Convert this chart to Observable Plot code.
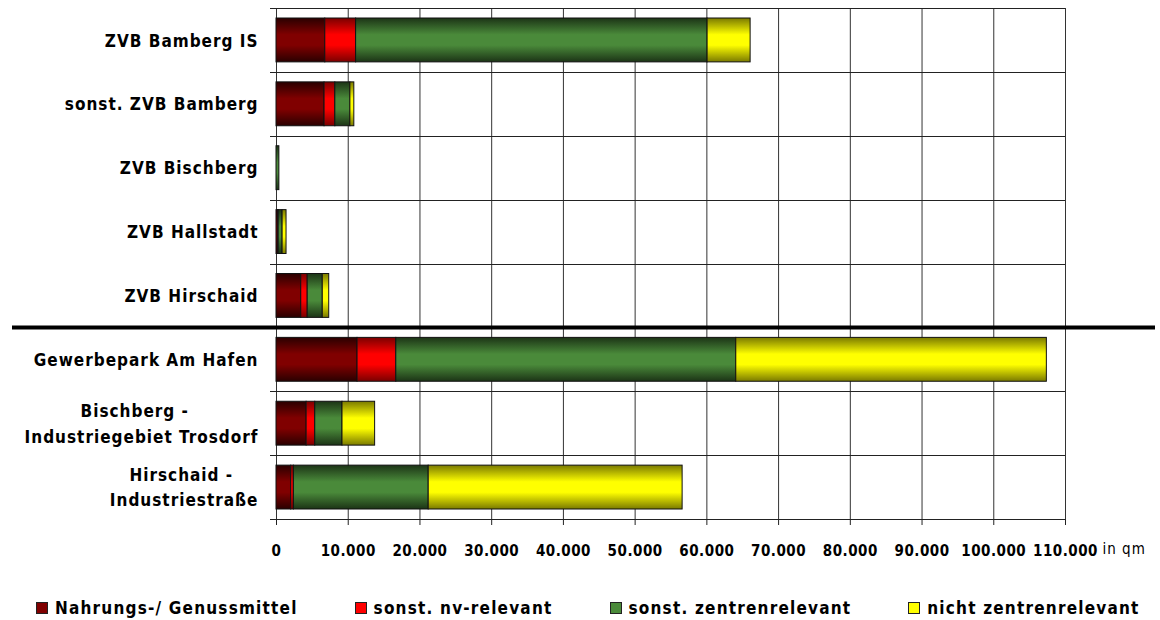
<!DOCTYPE html>
<html>
<head>
<meta charset="utf-8">
<script src="https://cdn.jsdelivr.net/npm/d3@7"></script>
<script src="https://cdn.jsdelivr.net/npm/@observablehq/plot@0.6"></script>
<style>
  html, body { margin: 0; padding: 0; background: #fff; }
  #chart svg { display: block; }
  .legend { display: flex; align-items: center; margin-top: 28px; padding-left: 36px; gap: 57px;
    font-family: "DejaVu Sans Condensed", "DejaVu Sans", sans-serif; font-weight: bold; font-size: 17px;
    letter-spacing: 1.2px; line-height: 20px; color: #000; }
  .legend .item { display: flex; align-items: center; white-space: nowrap; }
  .legend .sw { width: 10px; height: 10px; border: 1px solid #222; margin-right: 7px; }
  .xticks text { letter-spacing: 0.5px; }
</style>
</head>
<body>
<div id="chart"></div>
<div class="legend" id="legend"></div>
<script>
// ---- data ----
const categories = [
  "ZVB Bamberg IS",
  "sonst. ZVB Bamberg",
  "ZVB Bischberg",
  "ZVB Hallstadt",
  "ZVB Hirschaid",
  "Gewerbepark Am Hafen",
  "Bischberg - Industriegebiet Trosdorf",
  "Hirschaid - Industriestraße"
];
// two-line labels are centred on each other (padded with no-break spaces)
const categoryLabels = [
  "ZVB Bamberg IS",
  "sonst. ZVB Bamberg",
  "ZVB Bischberg",
  "ZVB Hallstadt",
  "ZVB Hirschaid",
  "Gewerbepark Am Hafen",
  "Bischberg -" + "\u00a0".repeat(11) + "\nIndustriegebiet Trosdorf",
  "Hirschaid -" + "\u00a0".repeat(4) + "\nIndustriestraße"
];
const seriesNames = ["Nahrungs-/ Genussmittel", "sonst. nv-relevant", "sonst. zentrenrelevant", "nicht zentrenrelevant"];
const nahrung      = [6800, 6700,   0, 250, 3450, 11300, 4200,  2050];
const nvRelevant   = [4300, 1500,   0,  50,  900,  5400, 1200,   370];
const zentren      = [49000, 2100, 400, 550, 2100, 47400, 3800, 18800];
const nichtZentren = [6000,  550,   0, 550,  900, 43300, 4550, 35400];
const seriesValues = [nahrung, nvRelevant, zentren, nichtZentren];
const xTicks = [0, 10000, 20000, 30000, 40000, 50000, 60000, 70000, 80000, 90000, 100000, 110000];
const xMax = 110000;
const separatorBefore = "Gewerbepark Am Hafen";
const unitLabel = "in qm";

// ---- styles ----
const gradients = [
  {id: "gNahrung", edge: "#2a0000", mid: "#800000", solid: "#800000"},
  {id: "gNv", edge: "#7a0000", mid: "#ff0000", solid: "#ff0000"},
  {id: "gZentren", edge: "#1c3416", mid: "#4a8a3a", solid: "#4a8a3a"},
  {id: "gNicht", edge: "#7a7a00", mid: "#ffff00", solid: "#ffff00"}
];

const rows = categories.flatMap((c, i) =>
  seriesNames.map((s, j) => ({cat: c, series: s, value: seriesValues[j][i]}))
).filter(d => d.value > 0);

const fmt = d3.formatLocale({decimal: ",", thousands: ".", grouping: [3], currency: ["", "€"]}).format(",");
const labelOf = new Map(categories.map((c, i) => [c, categoryLabels[i]]));

function boundaries(index, scales, values, dims) {
  const {x, y} = scales;
  const bw = y(categories[1]) - y(categories[0]);
  const g = d3.create("svg:g");
  const ys = categories.map(c => y(c)).concat([y(categories[categories.length - 1]) + bw]);
  for (const yy of ys) {
    g.append("line")
      .attr("x1", x(0) - 6).attr("x2", x(xMax))
      .attr("y1", Math.round(yy) + 0.5).attr("y2", Math.round(yy) + 0.5)
      .attr("stroke", "#222").attr("stroke-width", 1);
  }
  const ys2 = y(separatorBefore);
  g.append("line")
    .attr("x1", dims.marginLeft - 264).attr("x2", dims.width - 5)
    .attr("y1", ys2).attr("y2", ys2)
    .attr("stroke", "#000").attr("stroke-width", 4);
  return g.node();
}

const chart = Plot.plot({
  width: 1160,
  height: 570,
  marginLeft: 276,
  marginRight: 95,
  marginTop: 8,
  marginBottom: 51,
  style: {fontFamily: "'DejaVu Sans Condensed', 'DejaVu Sans', sans-serif", fontSize: "17px", fontWeight: "bold", letterSpacing: "1px", color: "#000", background: "#fff"},
  x: {domain: [0, xMax], axis: null, label: null},
  y: {domain: categories, padding: 0, round: false, axis: null, label: null},
  color: {type: "ordinal", domain: seriesNames, range: gradients.map(g => `url(#${g.id})`)},
  marks: [
    Plot.gridX(xTicks, {stroke: "#333", strokeOpacity: 1, strokeWidth: 1}),
    Plot.barX(rows, Plot.stackX({y: "cat", x: "value", fill: "series", order: seriesNames,
      insetTop: 10, insetBottom: 10, stroke: "#111", strokeWidth: 1})),
    boundaries,
    Plot.axisX(xTicks, {label: null, tickSize: 6, tickPadding: 20, tickFormat: fmt, fontSize: 15, stroke: "#222", strokeOpacity: 1, className: "xticks"}),
    Plot.axisY(categories, {label: null, tickSize: 0, tickPadding: 18, tickFormat: d => labelOf.get(d), lineHeight: 1.5, fontSize: 17, dy: -2}),
    Plot.text([unitLabel], {x: xMax, frameAnchor: "bottom", dx: 37, dy: 34, textAnchor: "start", fontWeight: "normal", fontSize: 15})
  ]
});

// gradient definitions
const defs = d3.select(chart).insert("defs", ":first-child");
for (const g of gradients) {
  const lg = defs.append("linearGradient").attr("id", g.id).attr("x1", 0).attr("y1", 0).attr("x2", 0).attr("y2", 1);
  lg.append("stop").attr("offset", "0%").attr("stop-color", g.edge);
  lg.append("stop").attr("offset", "38%").attr("stop-color", g.mid);
  lg.append("stop").attr("offset", "62%").attr("stop-color", g.mid);
  lg.append("stop").attr("offset", "100%").attr("stop-color", g.edge);
}
document.getElementById("chart").appendChild(chart);

// legend
const legend = d3.select("#legend");
seriesNames.forEach((s, i) => {
  const it = legend.append("div").attr("class", "item");
  it.append("div").attr("class", "sw").style("background", gradients[i].solid);
  it.append("span").text(s);
});
</script>
</body>
</html>
